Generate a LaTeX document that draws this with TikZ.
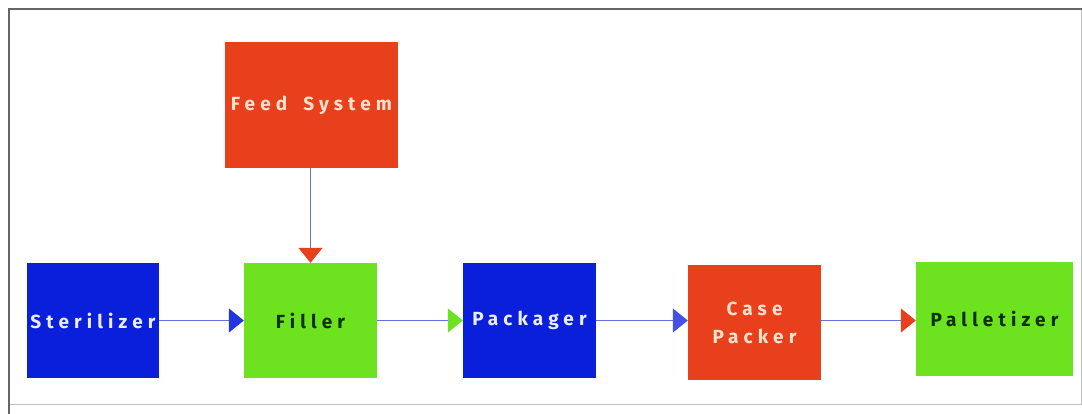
\documentclass[tikz,border=0pt]{standalone}
\usepackage{fontspec}
\setsansfont{Fira Sans}
\newfontfamily\boxfont[LetterSpace=27,BoldFont={Fira Sans Bold}]{Fira Sans}
\usetikzlibrary{arrows.meta}
\definecolor{cred}{HTML}{E8401C}
\definecolor{cblue}{HTML}{0A1FD9}
\definecolor{cgreen}{HTML}{6DE21E}
\definecolor{clink}{HTML}{6272D8}
\definecolor{tlight}{HTML}{E8EEFF}
\definecolor{tpeach}{HTML}{FFE2CC}
\definecolor{tdark}{HTML}{0A300A}
\begin{document}
\begin{tikzpicture}[x=1pt,y=-1pt,
  blk/.style={rectangle, inner sep=0pt, font=\boxfont\bfseries\fontsize{19}{28}\selectfont, align=center},
  redblk/.style={blk, fill=cred, text=tpeach},
  blueblk/.style={blk, fill=cblue, text=tlight},
  greenblk/.style={blk, fill=cgreen, text=tdark},
  link/.style={draw=clink, line width=1.3pt},
  tip/.style={-{Triangle[length=15pt,width=24pt,fill=#1,color=#1]}}
]
\useasboundingbox (0,0) rectangle (1082,414);
\fill[white] (0,0) rectangle (1082,414);
% frame
\draw[draw=black!25, line width=1pt] (1081,9) -- (1081,404) -- (9,404);
\draw[draw=black!60, line width=2pt] (1082,9) -- (9,9) -- (9,414);

\node[redblk, minimum width=173pt, minimum height=126pt] (feed) at (311.5,105) {Feed\kern 16pt System};
\node[blueblk, minimum width=132pt, minimum height=115pt] (ster) at (93,320.5) {Sterilizer};
\node[greenblk, minimum width=133pt, minimum height=115pt] (fill) at (310.5,320.5) {Filler};
\node[blueblk, minimum width=133pt, minimum height=115pt] (pack) at (529.5,320.5) {Packager};
\node[redblk, minimum width=133pt, minimum height=115pt] (case) at (754.5,322.5) {Case\\Packer};
\node[greenblk, minimum width=157pt, minimum height=114pt] (pall) at (994.5,319) {Palletizer};

\draw[link, tip=cred] (feed.south -| fill.north) -- (fill.north);
\draw[link, tip=cblue!90!white] (ster.east) -- (ster.east -| fill.west);
\draw[link, tip=cgreen] (fill.east) -- (fill.east -| pack.west);
\draw[link, tip=clink!70!blue] (pack.east) -- (pack.east -| case.west);
\draw[link, tip=cred] (case.east |- pack.east) -- (pack.east -| pall.west);
\end{tikzpicture}
\end{document}
